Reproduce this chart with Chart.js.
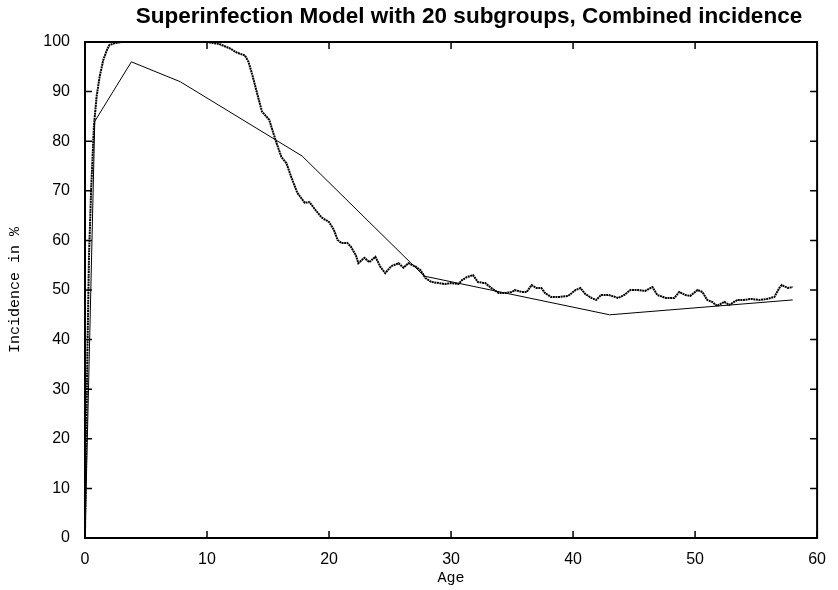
<!DOCTYPE html>
<html>
<head>
<meta charset="utf-8">
<script src="https://cdn.jsdelivr.net/npm/chart.js@4/dist/chart.umd.min.js"></script>
<style>
  html, body { margin: 0; padding: 0; background: #fff; }
  #wrap { width: 838px; height: 590px; }
</style>
</head>
<body>
<div id="wrap"><canvas id="myChart" width="838" height="590"></canvas></div>
<script>
// simulated combined incidence (dots)
var simAge = [0, 0.1, 0.2, 0.33, 0.5, 0.73, 0.95, 1.2, 1.5, 1.8, 2.0, 2.5, 3, 4, 5, 6, 7, 8, 9, 10,
	10.5, 11, 11.8, 12.5, 13.1, 13.4, 13.7, 14.1, 14.5, 15.1, 15.35, 15.7, 16.1, 16.5, 16.9, 17.4,
	18, 18.4, 18.9, 19.4, 20, 20.4, 20.7, 21, 21.5, 21.8, 22.2, 22.4, 22.9, 23.3, 23.8, 24.2, 24.6,
	25.1, 25.7, 26.1, 26.5, 27.1, 27.5, 27.9, 28.4, 29, 29.5, 30, 30.6, 30.9, 31.3, 31.8, 32.2, 32.8,
	33.3, 33.9, 34.4, 35, 35.2, 35.8, 36.2, 36.6, 37, 37.4, 37.7, 38.2, 38.9, 39.6, 40.2, 40.6, 41,
	41.5, 41.9, 42.3, 42.9, 43.7, 44.2, 44.7, 45.3, 45.9, 46.5, 46.9, 47.6, 48.3, 48.7, 49.2, 49.6,
	50.2, 50.6, 51, 51.4, 51.8, 52.4, 52.8, 53.2, 53.5, 54, 54.6, 55.3, 55.9, 56.5, 56.9, 57.1, 57.6, 58];
var simVal = [1, 18, 38, 57, 70, 83, 89, 93, 96.4, 98.4, 99.4, 99.8, 100, 100, 100, 100, 100, 100, 100, 100,
	99.8, 99.6, 98.8, 97.8, 97.3, 96, 93.5, 89.7, 86, 84.3, 82.3, 79.6, 76.8, 75.6, 72.8, 69.6,
	67.6, 67.7, 66.1, 64.6, 63.7, 62.1, 60.1, 59.5, 59.5, 58.7, 57, 55.4, 56.5, 55.6, 56.7, 54.7, 53.4,
	54.8, 55.4, 54.5, 55.4, 54.7, 54, 52.4, 51.6, 51.4, 51.2, 51.4, 51.2, 52, 52.6, 53, 51.6, 51.4,
	50.4, 49.4, 49.4, 49.6, 50, 49.6, 49.6, 51, 50.4, 50.4, 49.4, 48.6, 48.6, 48.8, 50, 50.4, 49.2,
	48.4, 48, 49, 49, 48.4, 49, 50, 50, 49.8, 50.6, 49, 48.4, 48.4, 49.6, 49, 48.8,
	50, 49.6, 48, 47.6, 46.8, 47.6, 47, 47.6, 48, 48, 48.2, 48, 48.2, 48.6, 50.4, 51, 50.4, 50.6];
// observed incidence (line)
var obsAge = [0, 0.8, 3.8, 7.8, 17.8, 27.8, 43, 58];
var obsVal = [0, 84, 96, 92, 77, 52.8, 45, 48];
var xTicks = [0, 10, 20, 30, 40, 50, 60];
var yTicks = [0, 10, 20, 30, 40, 50, 60, 70, 80, 90, 100];
var titleText = "Superinfection Model with 20 subgroups, Combined incidence";

var simData = [];
for (let i = 0; i < simAge.length; i++) simData.push({x: simAge[i], y: simVal[i]});
var obsData = [];
for (let i = 0; i < obsAge.length; i++) obsData.push({x: obsAge[i], y: obsVal[i]});

// frame, inward ticks on all four sides, and title
const framePlugin = {
	id: 'frame',
	afterDraw(chart) {
		const ctx = chart.ctx;
		const a = chart.chartArea;
		const xs = chart.scales.x, ys = chart.scales.y;
		ctx.save();
		ctx.strokeStyle = '#000';
		ctx.lineWidth = 1.5;
		ctx.beginPath();
		for (const v of xTicks) {
			const px = xs.getPixelForValue(v);
			ctx.moveTo(px, a.bottom); ctx.lineTo(px, a.bottom - 7);
			ctx.moveTo(px, a.top); ctx.lineTo(px, a.top + 7);
		}
		for (const v of yTicks) {
			const py = ys.getPixelForValue(v);
			ctx.moveTo(a.left, py); ctx.lineTo(a.left + 7, py);
			ctx.moveTo(a.right, py); ctx.lineTo(a.right - 7, py);
		}
		ctx.stroke();
		ctx.lineWidth = 2;
		ctx.strokeRect(a.left, a.top, a.right - a.left, a.bottom - a.top);
		ctx.fillStyle = '#000';
		ctx.font = 'bold 22.5px "Liberation Sans", Arial, sans-serif';
		ctx.textAlign = 'center';
		ctx.textBaseline = 'middle';
		ctx.fillText(titleText, 469, 17);
		ctx.restore();
	}
};

const ctx = document.getElementById('myChart').getContext('2d');
const myChart = new Chart(ctx, {
	type: 'line',
	data: {
		datasets: [{
			label: 'simulated',
			data: simData,
			borderColor: '#000',
			borderWidth: 2,
			borderDash: [2, 0.6],
			pointRadius: 0,
			fill: false,
			tension: 0
		}, {
			label: 'observed',
			data: obsData,
			borderColor: '#000',
			borderWidth: 1,
			pointRadius: 0,
			fill: false,
			tension: 0
		}]
	},
	options: {
		responsive: false,
		animation: false,
		layout: { padding: { left: 0, right: 18, top: 42, bottom: 0 } },
		plugins: {
			legend: { display: false },
			tooltip: { enabled: false },
			title: { display: false }
		},
		scales: {
			x: {
				type: 'linear',
				min: 0, max: 60,
				grid: { display: false, drawTicks: false },
				border: { display: false },
				afterFit: function(s) { s.height = 52; },
				afterBuildTicks: function(s) { s.ticks = xTicks.map(v => ({value: v})); },
				ticks: {
					color: '#000', padding: 12, maxRotation: 0,
					font: { family: '"Liberation Sans", Arial, sans-serif', size: 16 }
				},
				title: {
					display: true, text: 'Age', color: '#000',
					padding: { top: 2, bottom: 3 },
					font: { family: '"Liberation Mono", "Courier New", monospace', size: 15 }
				}
			},
			y: {
				type: 'linear',
				min: 0, max: 100,
				grid: { display: false, drawTicks: false },
				border: { display: false },
				afterFit: function(s) { s.width = 85; },
				afterBuildTicks: function(s) { s.ticks = yTicks.map(v => ({value: v})); },
				ticks: {
					color: '#000', padding: 15,
					font: { family: '"Liberation Sans", Arial, sans-serif', size: 16 }
				},
				title: {
					display: true, text: 'Incidence in %', color: '#000',
					padding: { top: 6, bottom: 2 },
					font: { family: '"Liberation Mono", "Courier New", monospace', size: 15 }
				}
			}
		}
	},
	plugins: [framePlugin]
});
</script>
</body>
</html>
